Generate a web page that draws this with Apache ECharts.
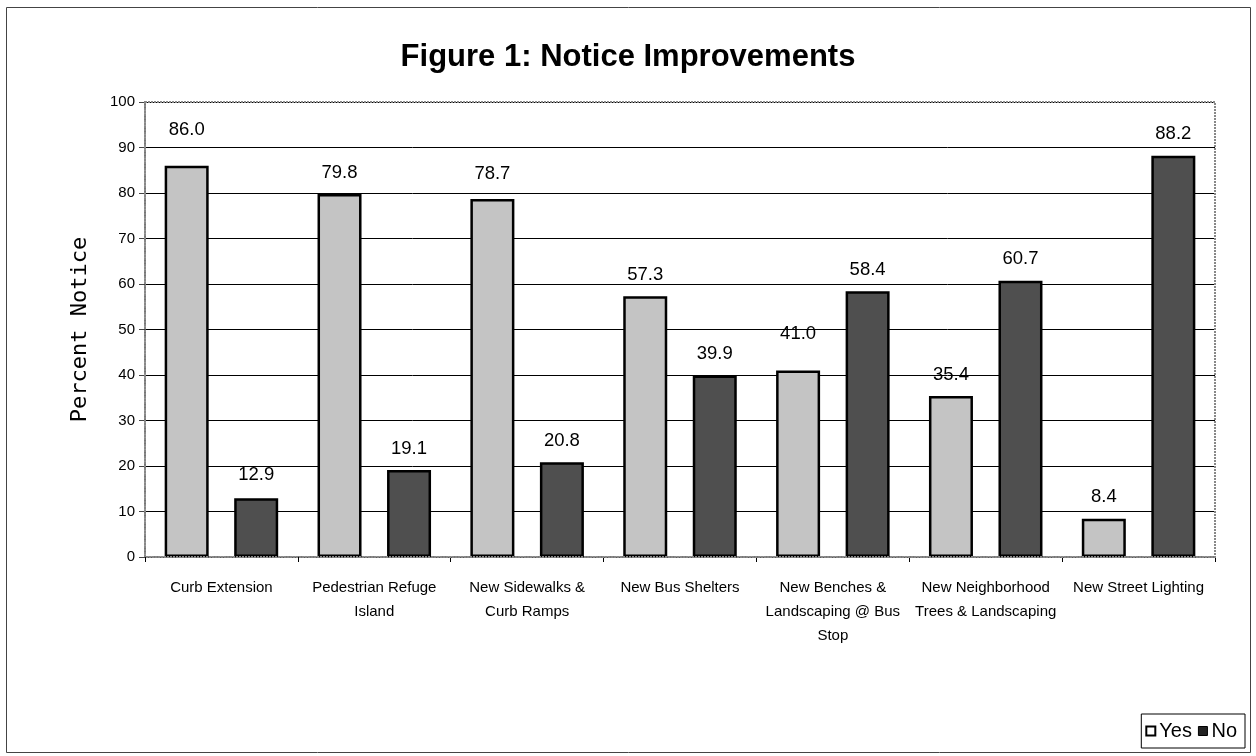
<!DOCTYPE html>
<html>
<head>
<meta charset="utf-8">
<script src="https://cdn.jsdelivr.net/npm/echarts@6/dist/echarts.min.js"></script>
<style>
html,body{margin:0;padding:0;background:#fff;}
#c{width:1256px;height:756px;}
</style>
</head>
<body>
<div id="c"></div>
<script>
const categories = [
  'Curb Extension',
  'Pedestrian Refuge\nIsland',
  'New Sidewalks &\nCurb Ramps',
  'New Bus Shelters',
  'New Benches &\nLandscaping @ Bus\nStop',
  'New Neighborhood\nTrees & Landscaping',
  'New Street Lighting'
];
const yesValues = [86.0, 79.8, 78.7, 57.3, 41.0, 35.4, 8.4];
const noValues = [12.9, 19.1, 20.8, 39.9, 58.4, 60.7, 88.2];
const yTicks = [0, 10, 20, 30, 40, 50, 60, 70, 80, 90, 100];

// extra label lift (px) to mimic the reference's hand-placed labels
const yesLabelLift = [14, 0, 4, 0, 15, 0, 0];
const noLabelLift = [2, 0, 0, 0, 0, 0, 0];

const chart = echarts.init(document.getElementById('c'), null, {renderer: 'canvas'});

function mkData(vals, lift) {
  return vals.map((v, i) => ({
    value: v,
    label: {distance: 12 + lift[i]}
  }));
}

const labelStyle = {
  show: true,
  position: 'top',
  distance: 12,
  fontFamily: 'Liberation Sans, Arial, sans-serif',
  fontSize: 18.5,
  color: '#000',
  formatter: p => p.value.toFixed(1)
};

chart.setOption({
  animation: false,
  backgroundColor: '#fff',
  title: {
    text: 'Figure 1: Notice Improvements',
    left: 'center',
    top: 37,
    textStyle: {
      fontFamily: 'Liberation Sans, Arial, sans-serif',
      fontSize: 31,
      fontWeight: 'bold',
      color: '#000'
    }
  },
  grid: {left: 145, right: 41, top: 102, bottom: 199},
  legend: {
    right: 11,
    bottom: 8,
    itemWidth: 9,
    itemHeight: 9,
    itemGap: 6,
    padding: [7, 8, 7, 4],
    borderColor: '#000',
    borderWidth: 1,
    textStyle: {fontFamily: 'Liberation Sans, Arial, sans-serif', fontSize: 20, color: '#000', padding: [0, 0, 0, -1]},
    data: [
      {name: 'Yes', icon: 'rect', itemStyle: {color: '#fff', borderColor: '#000', borderWidth: 2}},
      {name: 'No', icon: 'rect', itemStyle: {color: '#222', borderColor: '#000', borderWidth: 1}}
    ]
  },
  xAxis: {
    type: 'category',
    data: categories,
    axisLine: {show: true, lineStyle: {color: '#777', width: 2, type: 'dotted'}},
    axisTick: {show: true, alignWithLabel: false, length: 5, lineStyle: {color: '#000'}},
    axisLabel: {
      interval: 0,
      margin: 19,
      fontFamily: 'Liberation Sans, Arial, sans-serif',
      fontSize: 15,
      lineHeight: 24,
      color: '#000',
      verticalAlign: 'top'
    },
    splitLine: {show: false}
  },
  yAxis: {
    type: 'value',
    min: 0,
    max: 100,
    interval: 10,
    name: 'Percent Notice',
    nameLocation: 'middle',
    nameGap: 54,
    nameTextStyle: {fontFamily: 'DejaVu Sans Mono, monospace', fontSize: 22, color: '#000'},
    axisLine: {show: true, lineStyle: {color: '#777', width: 2, type: 'dotted'}},
    axisTick: {show: true, length: 6, lineStyle: {color: '#444'}},
    axisLabel: {
      fontFamily: 'Liberation Sans, Arial, sans-serif',
      fontSize: 15,
      color: '#000',
      margin: 10,
      formatter: v => yTicks.includes(v) ? String(v) : ''
    },
    splitLine: {show: true, lineStyle: {color: '#000', width: 1}}
  },
  graphic: [
    {type: 'rect', shape: {x: 6.5, y: 7.5, width: 1244, height: 745}, style: {fill: 'none', stroke: '#444', lineWidth: 1}, silent: true, z: -1},
    {type: 'rect', shape: {x: 145, y: 102, width: 1070, height: 455}, style: {fill: 'none', stroke: '#888', lineWidth: 2, lineDash: [2, 1]}, silent: true, z: 10}
  ],
  series: [
    {
      name: 'Yes',
      type: 'bar',
      data: mkData(yesValues, yesLabelLift),
      barWidth: 44,
      barGap: '58%',
      itemStyle: {color: '#c4c4c4', borderColor: '#000', borderWidth: 2.5},
      label: labelStyle,
      z: 5
    },
    {
      name: 'No',
      type: 'bar',
      data: mkData(noValues, noLabelLift),
      barWidth: 44,
      barGap: '58%',
      itemStyle: {color: '#4f4f4f', borderColor: '#000', borderWidth: 2.5},
      label: labelStyle,
      z: 5
    }
  ]
});
</script>
</body>
</html>
